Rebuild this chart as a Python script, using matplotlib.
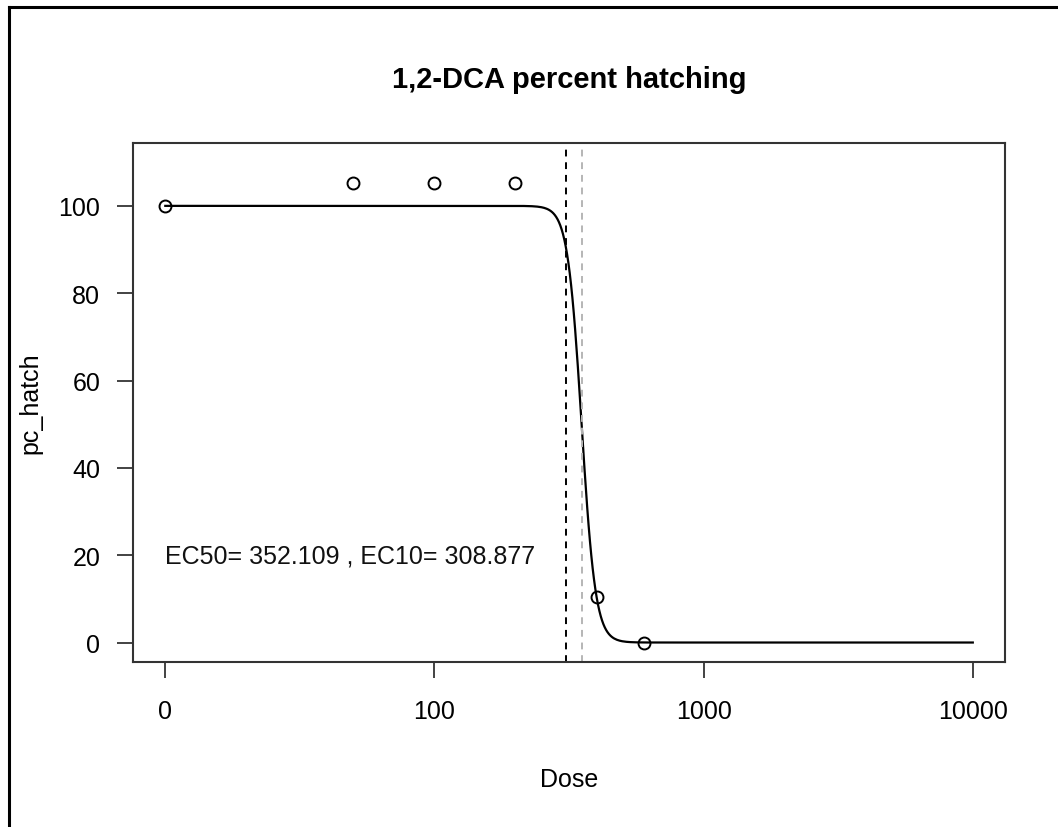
import numpy as np
import matplotlib.pyplot as plt
from matplotlib.lines import Line2D

plt.rcParams['font.family'] = ['Liberation Sans', 'DejaVu Sans']

# observed data
dose = [0, 50, 100, 200, 400, 600]
pc_hatch = [100, 105.3, 105.3, 105.3, 10.5, 0]

# fitted log-logistic model
ec50 = 352.109
ec10 = 308.877
upper = 100
lower = 0
slope = np.log(9) / np.log(ec50 / ec10)

# dose 0 is drawn at the broken-axis point
zero_pos = 10
xtick_vals = [10, 100, 1000, 10000]
xtick_labels = ["0", "100", "1000", "10000"]
ytick_vals = [0, 20, 40, 60, 80, 100]

fig = plt.figure(figsize=(10.58, 8.28), dpi=100)
ax = fig.add_axes([0.1257, 0.1996, 0.8243, 0.6265])

# curve
xs = np.logspace(np.log10(zero_pos), 4, 600)
ys = lower + (upper - lower) / (1 + (xs / ec50) ** slope)
ax.plot(xs, ys, color='black', lw=1.6)

xpos = [zero_pos if d == 0 else d for d in dose]
ax.plot(xpos, pc_hatch, linestyle='none', marker='o', markersize=8.6,
        markerfacecolor='none', markeredgecolor='black', markeredgewidth=1.4)

ax.axvline(ec10, color='black', lw=1.4, linestyle=(0, (3.5, 3)))
ax.axvline(ec50, color='#b5b5b5', lw=1.4, linestyle=(0, (3.5, 3)))

ax.text(zero_pos, 20, f"EC50= {ec50} , EC10= {ec10}", fontsize=18,
        ha='left', va='center', color='#111111')

ax.set_xscale('log')
ax.set_xlim(10 ** 0.88, 10 ** 4.12)
ax.set_ylim(-4.4, 114.4)
ax.set_xticks(xtick_vals)
ax.set_xticklabels(xtick_labels)
ax.xaxis.set_minor_locator(plt.NullLocator())
ax.set_yticks(ytick_vals)

ax.tick_params(axis='both', labelsize=18, length=11.5, width=1.2, color='#222222')
ax.tick_params(axis='x', pad=15)
ax.tick_params(axis='y', pad=12)
for s in ax.spines.values():
    s.set_linewidth(1.5)
    s.set_color('#333333')

ax.set_title("1,2-DCA percent hatching", fontsize=21, fontweight='bold', pad=40)
ax.set_xlabel("Dose", fontsize=18)
ax.set_ylabel("pc_hatch", fontsize=18)
ax.xaxis.set_label_coords(0.5, -0.2255)
ax.xaxis.label.set_va('center')
ax.yaxis.set_label_coords(-0.1181, 0.5)
ax.yaxis.label.set_va('center')

# outer frame (top and left edges)
fig.add_artist(Line2D([0.0085, 1.0], [0.9903, 0.9903], color='black', lw=2.2,
                      transform=fig.transFigure))
fig.add_artist(Line2D([0.0085, 0.0085], [0.0, 0.9903], color='black', lw=2.2,
                      transform=fig.transFigure))

fig.savefig("out.png", dpi=100)
